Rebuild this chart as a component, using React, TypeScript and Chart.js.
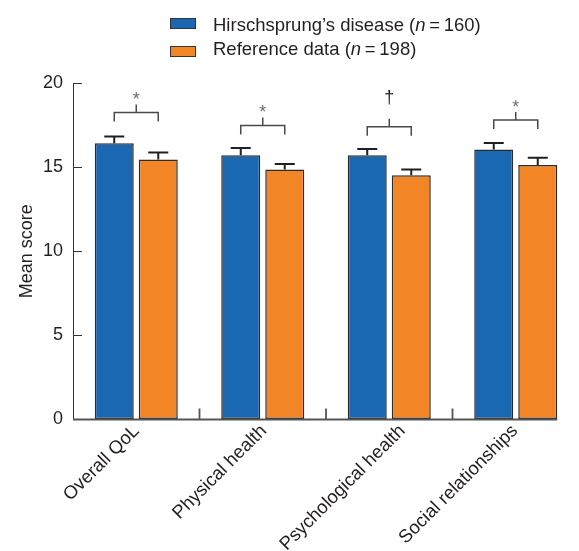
import React, { useEffect, useRef } from "react";
import { Chart, registerables } from "chart.js";

Chart.register(...registerables);

const categories = ["Overall QoL", "Physical health", "Psychological health", "Social relationships"];
const hdMeans = [16.42, 15.7, 15.7, 16.05];
const hdErrors = [0.4, 0.43, 0.38, 0.39];
const refMeans = [15.45, 14.86, 14.52, 15.13];
const refErrors = [0.42, 0.33, 0.34, 0.42];
const bracketLevels = [18.25, 17.47, 17.4, 17.8];
const bracketSymbols = ["*", "*", "\u2020", "*"];
const yTickValues = [0, 5, 10, 15, 20];
const seriesNames = ["Hirschsprung\u2019s disease", "Reference data"];
const seriesN = [160, 198];
const seriesColors = ["#1a67b2", "#f28627"];

// style: horizontal offset of each rotated category label's end from the category centre (px)
const LABEL_END_OFFSET = [4, 5, 17, 3];

const FONT = '"Liberation Sans", Arial, Helvetica, sans-serif';
const TEXT = "#231f20";

const overlay = {
  id: "overlay",
  afterDatasetsDraw(chart: any) {
    const ctx = chart.ctx;
    const ys = chart.scales.y;
    const xs = chart.scales.x;
    const area = chart.chartArea;
    const metas = [chart.getDatasetMeta(0), chart.getDatasetMeta(1)];
    const means = [hdMeans, refMeans];
    const errs = [hdErrors, refErrors];
    ctx.save();
    // error bars
    ctx.strokeStyle = TEXT;
    ctx.lineWidth = 2;
    metas.forEach((meta, di) => {
      meta.data.forEach((bar: any, j: number) => {
        const top = ys.getPixelForValue(means[di][j] + errs[di][j]);
        ctx.beginPath();
        ctx.moveTo(bar.x, bar.y);
        ctx.lineTo(bar.x, top);
        ctx.moveTo(bar.x - 10, top);
        ctx.lineTo(bar.x + 10, top);
        ctx.stroke();
      });
    });
    // brackets
    categories.forEach((_, j) => {
      const b0 = metas[0].data[j];
      const b1 = metas[1].data[j];
      const by = ys.getPixelForValue(bracketLevels[j]);
      const cx = (b0.x + b1.x) / 2;
      ctx.strokeStyle = "#4a4a4a";
      ctx.lineWidth = 1.5;
      ctx.beginPath();
      ctx.moveTo(b0.x, by + 9);
      ctx.lineTo(b0.x, by);
      ctx.lineTo(b1.x, by);
      ctx.lineTo(b1.x, by + 9);
      ctx.moveTo(cx, by);
      ctx.lineTo(cx, by - 8);
      ctx.stroke();
      const sym = bracketSymbols[j];
      ctx.font = `18px ${FONT}`;
      ctx.textAlign = "center";
      ctx.textBaseline = "alphabetic";
      if (sym === "*") {
        ctx.fillStyle = "#6e6e6e";
        ctx.fillText(sym, cx, by - 8 + 0.5);
      } else {
        ctx.fillStyle = TEXT;
        ctx.fillText(sym, cx, by - 8 - 16);
      }
    });
    // x axis line and ticks
    const last = metas[1].data[metas[1].data.length - 1];
    ctx.strokeStyle = "#555555";
    ctx.lineWidth = 1.8;
    ctx.beginPath();
    ctx.moveTo(area.left, area.bottom);
    ctx.lineTo(last.x + last.width / 2, area.bottom);
    for (let j = 0; j < categories.length - 1; j++) {
      const bx = (xs.getPixelForValue(j) + xs.getPixelForValue(j + 1)) / 2;
      ctx.moveTo(bx, area.bottom);
      ctx.lineTo(bx, area.bottom - 11);
    }
    ctx.stroke();
    // y axis inward ticks
    ctx.strokeStyle = "#333333";
    ctx.lineWidth = 1;
    ctx.beginPath();
    yTickValues.forEach((v) => {
      if (v === 0) return;
      const py = Math.round(ys.getPixelForValue(v)) + 0.5;
      ctx.moveTo(area.left, py);
      ctx.lineTo(area.left + 9, py);
    });
    ctx.stroke();
    // rotated category labels
    ctx.fillStyle = TEXT;
    ctx.font = `18.5px ${FONT}`;
    ctx.textAlign = "right";
    ctx.textBaseline = "middle";
    categories.forEach((lab, j) => {
      ctx.save();
      ctx.translate(xs.getPixelForValue(j) + LABEL_END_OFFSET[j] - 11.5, area.bottom + 1);
      ctx.rotate(-Math.PI / 4);
      ctx.fillText(lab, 0, 10.8);
      ctx.restore();
    });
    ctx.restore();
  },
  afterDraw(chart: any) {
    const ctx = chart.ctx;
    ctx.save();
    const boxes = [
      { y: 18, base: 30.5 },
      { y: 46, base: 55 },
    ];
    seriesNames.forEach((name, i) => {
      const b = boxes[i];
      ctx.fillStyle = seriesColors[i];
      ctx.fillRect(170, b.y, 26, 11);
      ctx.strokeStyle = "#333333";
      ctx.lineWidth = 1;
      ctx.strokeRect(170.5, b.y + 0.5, 25, 10);
      ctx.fillStyle = TEXT;
      ctx.textAlign = "left";
      ctx.textBaseline = "alphabetic";
      let x = 213;
      const parts = [
        { t: `${name} (`, italic: false },
        { t: "n", italic: true },
        { t: `\u2009=\u2009${seriesN[i]})`, italic: false },
      ];
      parts.forEach((p) => {
        ctx.font = `${p.italic ? "italic " : ""}18.5px ${FONT}`;
        ctx.fillText(p.t, x, b.base);
        x += ctx.measureText(p.t).width;
      });
    });
    ctx.restore();
  },
};

export default function App() {
  const ref = useRef<HTMLCanvasElement | null>(null);
  useEffect(() => {
    if (!ref.current) return;
    const chart = new Chart(ref.current, {
      type: "bar",
      data: {
        labels: categories,
        datasets: [
          {
            label: seriesNames[0],
            data: hdMeans,
            backgroundColor: seriesColors[0],
            borderColor: "#2b2b2b",
            borderWidth: 1.5,
            borderSkipped: false,
            categoryPercentage: 0.696,
            barPercentage: 0.886,
          },
          {
            label: seriesNames[1],
            data: refMeans,
            backgroundColor: seriesColors[1],
            borderColor: "#2b2b2b",
            borderWidth: 1.5,
            borderSkipped: false,
            categoryPercentage: 0.696,
            barPercentage: 0.886,
          },
        ],
      },
      options: {
        animation: false,
        responsive: false,
        layout: { padding: { top: 83, right: 0, left: 0, bottom: 0 } },
        plugins: { legend: { display: false }, tooltip: { enabled: false } },
        scales: {
          x: {
            grid: { display: false },
            border: { display: false },
            ticks: { display: false },
            afterFit: (s: any) => {
              s.height = 131.5;
            },
          },
          y: {
            min: 0,
            max: 20,
            ticks: { stepSize: 5, color: TEXT, font: { family: FONT, size: 18 }, padding: 10 },
            grid: { display: true, drawOnChartArea: false, drawTicks: false },
            border: { display: true, color: "#333333", width: 1 },
            title: {
              display: true,
              text: "Mean score",
              color: TEXT,
              font: { family: FONT, size: 18 },
              padding: { top: 16, bottom: 0 },
            },
            afterFit: (s: any) => {
              s.width = 73;
            },
          },
        },
      } as any,
      plugins: [overlay],
    });
    return () => chart.destroy();
  }, []);
  return (
    <div style={{ position: "absolute", left: 0, top: 0, width: 579, height: 551, background: "#fff" }}>
      <canvas ref={ref} width={579} height={551} style={{ width: 579, height: 551, display: "block" }} />
    </div>
  );
}
